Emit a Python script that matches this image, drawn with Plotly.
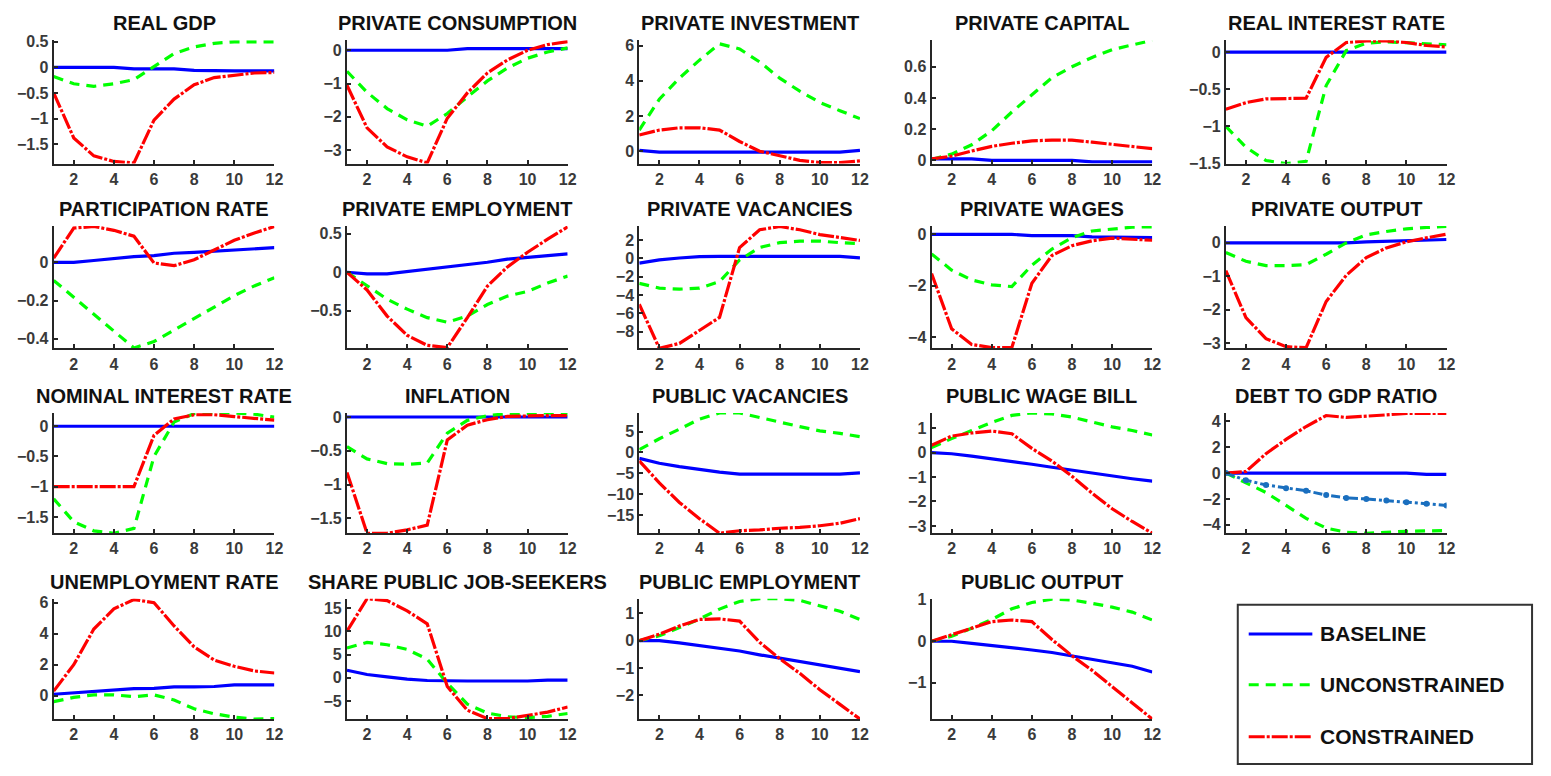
import plotly.graph_objects as go

W, H = 1551, 776
x = list(range(1, 13))

# ---------------- data ----------------
gdp_b = [0, 0, 0, 0, -0.03, -0.03, -0.03, -0.06, -0.07, -0.07, -0.07, -0.07]
gdp_u = [-0.18, -0.32, -0.37, -0.32, -0.24, 0.01, 0.27, 0.40, 0.47, 0.50, 0.50, 0.50]
gdp_c = [-0.50, -1.38, -1.73, -1.84, -1.87, -1.03, -0.62, -0.34, -0.20, -0.15, -0.11, -0.10]

cons_b = [0, 0, 0, 0, 0, 0, 0.05, 0.05, 0.05, 0.05, 0.05, 0.05]
cons_u = [-0.63, -1.26, -1.75, -2.09, -2.28, -1.90, -1.40, -0.92, -0.53, -0.24, -0.05, 0.07]
cons_c = [-1.05, -2.33, -2.90, -3.20, -3.38, -2.04, -1.28, -0.68, -0.29, 0.0, 0.17, 0.26]

inv_b = [0.05, -0.05, -0.05, -0.05, -0.05, -0.05, -0.05, -0.05, -0.05, -0.05, -0.05, 0.05]
inv_u = [1.20, 2.95, 4.15, 5.17, 6.10, 5.81, 5.07, 4.15, 3.41, 2.77, 2.30, 1.85]
inv_c = [0.92, 1.20, 1.33, 1.33, 1.20, 0.55, 0.0, -0.28, -0.52, -0.65, -0.65, -0.55]

cap_b = [0.01, 0.01, 0.01, 0.0, 0.0, 0.0, 0.0, 0.0, -0.01, -0.01, -0.01, -0.01]
cap_u = [0.006, 0.04, 0.10, 0.19, 0.31, 0.42, 0.53, 0.60, 0.66, 0.71, 0.74, 0.77]
cap_c = [0.01, 0.027, 0.06, 0.09, 0.11, 0.125, 0.13, 0.13, 0.117, 0.104, 0.09, 0.075]

rir_b = [0] * 12
rir_u = [-1.0, -1.28, -1.46, -1.50, -1.47, -0.45, 0.02, 0.12, 0.14, 0.13, 0.11, 0.10]
rir_c = [-0.77, -0.68, -0.63, -0.63, -0.62, -0.07, 0.13, 0.15, 0.15, 0.13, 0.09, 0.07]

part_b = [0, 0, 0.01, 0.022, 0.03, 0.036, 0.048, 0.053, 0.06, 0.065, 0.07, 0.077]
part_u = [-0.094, -0.183, -0.268, -0.362, -0.448, -0.414, -0.354, -0.294, -0.234, -0.174, -0.123, -0.08]
part_c = [0.022, 0.18, 0.188, 0.168, 0.137, -0.003, -0.017, 0.014, 0.065, 0.116, 0.154, 0.188]

emp_b = [0, -0.02, -0.02, 0.01, 0.04, 0.07, 0.10, 0.13, 0.17, 0.19, 0.21, 0.24]
emp_u = [0, -0.18, -0.35, -0.48, -0.59, -0.65, -0.57, -0.42, -0.31, -0.25, -0.14, -0.05]
emp_c = [0, -0.23, -0.57, -0.82, -0.95, -0.98, -0.59, -0.18, 0.07, 0.26, 0.43, 0.59]

vac_b = [-0.53, -0.18, 0.03, 0.18, 0.21, 0.21, 0.21, 0.21, 0.21, 0.21, 0.21, 0.04]
vac_u = [-2.72, -3.25, -3.36, -3.25, -2.54, -0.18, 1.17, 1.70, 1.87, 1.87, 1.70, 1.60]
vac_c = [-5.0, -9.8, -9.26, -7.84, -6.43, 1.17, 3.10, 3.46, 3.10, 2.58, 2.23, 1.94]

wag_b = [0, 0, 0, 0, 0, -0.05, -0.05, -0.05, -0.10, -0.10, -0.10, -0.13]
wag_u = [-0.76, -1.39, -1.77, -1.96, -2.03, -1.20, -0.57, -0.13, 0.13, 0.22, 0.28, 0.29]
wag_c = [-1.52, -3.67, -4.28, -4.40, -4.40, -1.90, -0.82, -0.44, -0.25, -0.15, -0.19, -0.23]

out_b = [0, 0, 0, 0, 0, 0, 0, 0.03, 0.05, 0.08, 0.10, 0.10]
out_u = [-0.29, -0.55, -0.68, -0.68, -0.65, -0.34, 0.0, 0.24, 0.34, 0.42, 0.46, 0.49]
out_c = [-0.83, -2.23, -2.86, -3.10, -3.13, -1.75, -0.97, -0.44, -0.15, 0.03, 0.15, 0.26]

nir_b = [0] * 12
nir_u = [-1.20, -1.58, -1.73, -1.77, -1.69, -0.50, 0.07, 0.21, 0.22, 0.22, 0.20, 0.15]
nir_c = [-1.0, -1.0, -1.0, -1.0, -1.0, -0.15, 0.12, 0.19, 0.19, 0.16, 0.135, 0.10]

inf_b = [0] * 12
inf_u = [-0.44, -0.62, -0.69, -0.70, -0.68, -0.24, -0.05, 0.02, 0.05, 0.06, 0.06, 0.04]
inf_c = [-0.82, -1.72, -1.72, -1.67, -1.60, -0.34, -0.12, -0.04, 0.01, 0.02, 0.02, 0.02]

pvac_b = [-1.4, -2.6, -3.4, -4.1, -4.7, -5.2, -5.2, -5.2, -5.2, -5.2, -5.2, -4.9]
pvac_u = [0.7, 3.3, 5.6, 8.0, 9.5, 9.5, 8.4, 7.2, 6.2, 5.2, 4.6, 3.8]
pvac_c = [-2.0, -7.3, -12.0, -15.9, -19.4, -18.8, -18.6, -18.2, -18.0, -17.6, -17.0, -15.9]

pwb_b = [0, -0.05, -0.15, -0.25, -0.37, -0.48, -0.60, -0.72, -0.85, -0.97, -1.07, -1.17]
pwb_u = [0.20, 0.57, 0.90, 1.23, 1.52, 1.62, 1.58, 1.45, 1.25, 1.05, 0.90, 0.72]
pwb_c = [0.30, 0.67, 0.80, 0.88, 0.77, 0.17, -0.35, -0.97, -1.66, -2.30, -2.82, -3.30]

debt_b = [0, 0, 0, 0, 0, 0, 0, 0, 0, 0, -0.1, -0.1]
debt_u = [0, -0.75, -1.5, -2.5, -3.5, -4.25, -4.57, -4.65, -4.55, -4.50, -4.47, -4.45]
debt_c = [0, 0.12, 1.5, 2.6, 3.6, 4.45, 4.3, 4.37, 4.5, 4.62, 4.62, 4.62]
debt_alt = [0, -0.55, -0.92, -1.17, -1.37, -1.70, -1.92, -2.0, -2.12, -2.25, -2.37, -2.50]

unemp_b = [0.10, 0.20, 0.30, 0.38, 0.46, 0.48, 0.57, 0.57, 0.60, 0.70, 0.70, 0.70]
unemp_u = [-0.38, -0.10, 0.06, 0.06, -0.06, 0.06, -0.27, -0.84, -1.16, -1.37, -1.50, -1.47]
unemp_c = [0.30, 2.0, 4.3, 5.6, 6.2, 6.0, 4.5, 3.15, 2.3, 1.9, 1.6, 1.47]

share_b = [1.6, 0.7, 0.2, -0.3, -0.6, -0.7, -0.7, -0.7, -0.7, -0.7, -0.5, -0.5]
share_u = [6.4, 7.6, 7.1, 6.1, 4.0, -1.2, -5.7, -7.6, -8.4, -8.6, -8.3, -7.7]
share_c = [10.0, 17.0, 16.6, 14.4, 11.6, -1.9, -7.0, -8.8, -8.8, -8.1, -7.4, -6.3]

pemp_b = [0, 0, -0.08, -0.18, -0.28, -0.38, -0.52, -0.64, -0.78, -0.90, -1.02, -1.14]
pemp_u = [0, 0.18, 0.48, 0.80, 1.16, 1.44, 1.54, 1.54, 1.48, 1.28, 1.08, 0.78]
pemp_c = [0, 0.24, 0.54, 0.78, 0.80, 0.72, -0.06, -0.66, -1.20, -1.80, -2.34, -2.88]

pout_b = [0, 0, -0.05, -0.10, -0.16, -0.21, -0.27, -0.35, -0.43, -0.51, -0.60, -0.74]
pout_u = [0, 0.12, 0.31, 0.52, 0.78, 0.93, 1.01, 0.99, 0.91, 0.82, 0.70, 0.51]
pout_c = [0, 0.16, 0.31, 0.47, 0.51, 0.47, 0.04, -0.35, -0.70, -1.09, -1.48, -1.87]

titles = ["REAL GDP", "PRIVATE CONSUMPTION", "PRIVATE INVESTMENT", "PRIVATE CAPITAL",
          "REAL INTEREST RATE", "PARTICIPATION RATE", "PRIVATE EMPLOYMENT",
          "PRIVATE VACANCIES", "PRIVATE WAGES", "PRIVATE OUTPUT",
          "NOMINAL INTEREST RATE", "INFLATION", "PUBLIC VACANCIES", "PUBLIC WAGE BILL",
          "DEBT TO GDP RATIO", "UNEMPLOYMENT RATE", "SHARE PUBLIC JOB-SEEKERS",
          "PUBLIC EMPLOYMENT", "PUBLIC OUTPUT"]

series = [
    (gdp_b, gdp_u, gdp_c), (cons_b, cons_u, cons_c), (inv_b, inv_u, inv_c),
    (cap_b, cap_u, cap_c), (rir_b, rir_u, rir_c), (part_b, part_u, part_c),
    (emp_b, emp_u, emp_c), (vac_b, vac_u, vac_c), (wag_b, wag_u, wag_c),
    (out_b, out_u, out_c), (nir_b, nir_u, nir_c), (inf_b, inf_u, inf_c),
    (pvac_b, pvac_u, pvac_c), (pwb_b, pwb_u, pwb_c), (debt_b, debt_u, debt_c),
    (unemp_b, unemp_u, unemp_c), (share_b, share_u, share_c),
    (pemp_b, pemp_u, pemp_c), (pout_b, pout_u, pout_c),
]

y_ranges = [[-1.88, 0.53], [-3.4, 0.3], [-0.7, 6.3], [-0.02, 0.77], [-1.5, 0.16],
            [-0.45, 0.19], [-0.99, 0.6], [-9.8, 3.5], [-4.43, 0.32], [-3.15, 0.5],
            [-1.77, 0.22], [-1.72, 0.06], [-19.4, 9.5], [-3.3, 1.62], [-4.65, 4.65],
            [-1.5, 6.25], [-8.9, 17.0], [-2.88, 1.54], [-1.87, 1.02]]

y_ticks = [[-1.5, -1, -0.5, 0, 0.5], [-3, -2, -1, 0], [0, 2, 4, 6], [0, 0.2, 0.4, 0.6],
           [-1.5, -1, -0.5, 0], [-0.4, -0.2, 0], [-0.5, 0, 0.5], [-8, -6, -4, -2, 0, 2],
           [-4, -2, 0], [-3, -2, -1, 0], [-1.5, -1, -0.5, 0], [-1.5, -1, -0.5, 0],
           [-15, -10, -5, 0, 5], [-3, -2, -1, 0, 1], [-4, -2, 0, 2, 4], [0, 2, 4, 6],
           [-5, 0, 5, 10, 15], [-2, -1, 0, 1], [-1, 0, 1]]

x_ticks = [2, 4, 6, 8, 10, 12]
legend_names = ["BASELINE", "UNCONSTRAINED", "CONSTRAINED"]

# ---------------- layout geometry (pixels) ----------------
col_left = [54, 349, 643, 937, 1233]
col_w = 222
row_top = [33, 223, 414, 604]
row_bot = [159, 348, 537, 727]

BLUE, GREEN, RED, STEEL = "#0000FF", "#00FF00", "#FF0000", "#1A6FBF"
AX = "#262626"
GREEN_DASH = "10px,7px"
RED_DASH = "16px,2px,3px,2px"
styles = [dict(color=BLUE, width=3.2),
          dict(color=GREEN, width=3.2, dash=GREEN_DASH),
          dict(color=RED, width=3.2, dash=RED_DASH)]
tickfont = dict(family="Arial", size=16, color="#3a3a3a", weight="bold")

fig = go.Figure()
annotations = []
layout = {}
for i, (title, ser) in enumerate(zip(titles, series)):
    r, c = divmod(i, 5)
    k = i + 1
    xs = "" if k == 1 else str(k)
    x0 = col_left[c] / W
    x1 = (col_left[c] + col_w) / W
    y0 = 1 - row_bot[r] / H
    y1 = 1 - row_top[r] / H
    for vals, st, nm in zip(ser, styles, legend_names):
        fig.add_trace(go.Scatter(x=x, y=vals, mode="lines", line=st, name=nm,
                                 showlegend=False, xaxis="x" + xs, yaxis="y" + xs))
    if title == "DEBT TO GDP RATIO":
        fig.add_trace(go.Scatter(x=x, y=debt_alt, mode="lines+markers",
                                 line=dict(color=STEEL, width=3, dash="9px,3px,3px,3px"),
                                 marker=dict(color=STEEL, size=6, symbol="circle"),
                                 showlegend=False, xaxis="x" + xs, yaxis="y" + xs))
    layout["xaxis" + xs] = dict(domain=[x0, x1], anchor="y" + xs, range=[1, 12],
                                tickvals=x_ticks, showgrid=False, zeroline=False,
                                showline=True, linecolor=AX, linewidth=2,
                                ticks="inside", ticklen=4, tickwidth=1.5, tickcolor=AX,
                                tickfont=tickfont)
    layout["yaxis" + xs] = dict(domain=[y0, y1], anchor="x" + xs, range=y_ranges[i],
                                tickvals=y_ticks[i], showgrid=False, zeroline=False,
                                showline=True, linecolor=AX, linewidth=2,
                                ticks="inside", ticklen=4, tickwidth=1.5, tickcolor=AX,
                                tickfont=tickfont)
    annotations.append(dict(text="<b>%s</b>" % title, xref="paper", yref="paper",
                            x=(x0 + x1) / 2, y=y1 + 4 / H, xanchor="center",
                            yanchor="bottom", showarrow=False,
                            font=dict(family="Arial", size=20, color="#111111")))

# ---------------- legend box (drawn in the empty 20th slot) ----------------
shapes = [dict(type="rect", xref="paper", yref="paper",
               x0=1245 / W, x1=1541 / W, y0=1 - 773 / H, y1=1 - 610 / H,
               line=dict(color="#333333", width=2), fillcolor="white")]
leg_y = [640, 692, 745]
leg_dash = ["solid", GREEN_DASH, RED_DASH]
leg_col = [BLUE, GREEN, RED]
for nm, yy, dd, cc in zip(legend_names, leg_y, leg_dash, leg_col):
    shapes.append(dict(type="line", xref="paper", yref="paper",
                       x0=1256 / W, x1=1320 / W, y0=1 - yy / H, y1=1 - yy / H,
                       line=dict(color=cc, width=3, dash=dd)))
    annotations.append(dict(text="<b>%s</b>" % nm, xref="paper", yref="paper",
                            x=1326 / W, y=1 - yy / H, xanchor="left", yanchor="middle",
                            showarrow=False,
                            font=dict(family="Arial", size=21, color="#111111")))

fig.update_layout(width=W, height=H, margin=dict(l=0, r=0, t=0, b=0),
                  paper_bgcolor="white", plot_bgcolor="white",
                  showlegend=False, annotations=annotations, shapes=shapes, **layout)

fig.write_html("out.html", config={"displayModeBar": False},
               post_script="document.body.style.margin='0';")
